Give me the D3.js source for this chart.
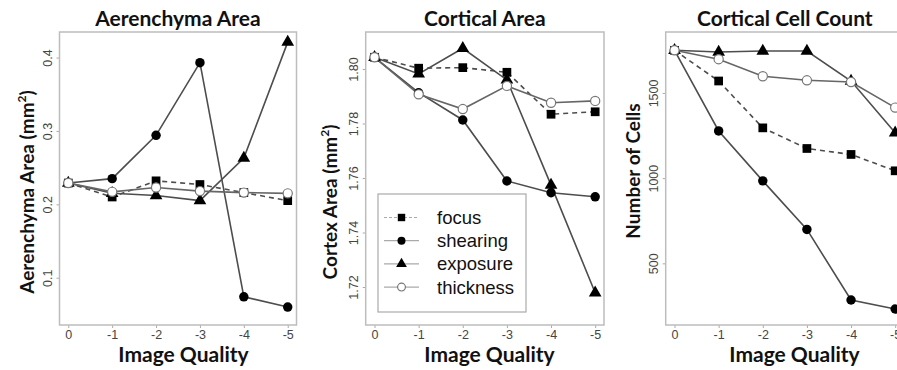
<!DOCTYPE html>
<html>
<head>
<meta charset="utf-8">
<script src="https://cdn.jsdelivr.net/npm/d3@7"></script>
<style>
  body { margin: 0; background: #fff; }
</style>
</head>
<body>
<svg id="chart" width="897" height="370"></svg>
<script>
// x values (image quality steps) and their labels
const qualitySteps = [0, -1, -2, -3, -4, -5];
const qualityLabels = ["0", "-1", "-2", "-3", "-4", "-5"];
const seriesNames = ["focus", "shearing", "exposure", "thickness"];

// Aerenchyma Area (mm2)
const aerFocus     = [0.229, 0.210, 0.232, 0.227, 0.216, 0.205];
const aerShearing  = [0.229, 0.235, 0.294, 0.393, 0.074, 0.060];
const aerExposure  = [0.229, 0.215, 0.212, 0.205, 0.263, 0.421];
const aerThickness = [0.229, 0.217, 0.223, 0.218, 0.216, 0.215];

// Cortical Area (mm2)
const cortFocus     = [1.8043, 1.8003, 1.8005, 1.7988, 1.7834, 1.7843];
const cortShearing  = [1.8043, 1.7913, 1.7813, 1.7589, 1.7546, 1.7531];
const cortExposure  = [1.8043, 1.7982, 1.8076, 1.7960, 1.7574, 1.7179];
const cortThickness = [1.8043, 1.7907, 1.7853, 1.7938, 1.7876, 1.7883];

// Cortical Cell Count
const cellFocus     = [1750, 1570, 1295, 1174, 1139, 1043];
const cellShearing  = [1750, 1277, 984, 699, 285, 232];
const cellExposure  = [1750, 1740, 1746, 1746, 1570, 1266];
const cellThickness = [1750, 1698, 1598, 1574, 1564, 1414];

const aerTicks = [0.1, 0.2, 0.3, 0.4];
const cortTicks = [1.72, 1.74, 1.76, 1.78, 1.80];
const cellTicks = [500, 1000, 1500];

const svg = d3.select("#chart");
svg.append("rect").attr("width", 897).attr("height", 370).attr("fill", "#fff");

const plotTop = 32, plotBottom = 325;
const lineCol = "#4d4d4d";

const panels = [
  { title: "Aerenchyma Area", ylab: "Aerenchyma Area (mm", left: 59.5, right: 296.5,
    domain: [0.0356, 0.4348], ticks: aerTicks, fmt: d => d.toFixed(1),
    data: [aerFocus, aerShearing, aerExposure, aerThickness],
    ylabPos: [27, 192], xlabX: 183.5 },
  { title: "Cortical Area", ylab: "Cortex Area (mm", left: 365.7, right: 604,
    domain: [1.70606, 1.81358], ticks: cortTicks, fmt: d => d.toFixed(2),
    data: [cortFocus, cortShearing, cortExposure, cortThickness],
    ylabPos: [330, 202], xlabX: 489.5, legend: true },
  { title: "Cortical Cell Count", ylab: "Number of Cells", left: 665.7, right: 904,
    domain: [138.3, 1857.5], ticks: cellTicks, fmt: d => String(d),
    data: [cellFocus, cellShearing, cellExposure, cellThickness],
    ylabPos: [633, 171], xlabX: 794.5, noSup: true }
];

function drawMarker(g, name, x, y, scale) {
  const k = scale || 1;
  if (name === "thickness") {
    g.append("circle").attr("cx", x).attr("cy", y).attr("r", 4.6 * k)
      .attr("fill", "#fff").attr("stroke", "#777").attr("stroke-width", 1.2);
    return;
  }
  const type = name === "focus" ? d3.symbolSquare
             : name === "shearing" ? d3.symbolCircle : d3.symbolTriangle;
  const size = (name === "focus" ? 76 : name === "shearing" ? 70 : 70) * k * k;
  g.append("path").attr("d", d3.symbol().type(type).size(size)())
    .attr("transform", `translate(${x},${y})`).attr("fill", "#000");
}

panels.forEach(p => {
  const x = d3.scaleLinear().domain([0.2, -5.2]).range([p.left, p.right]);
  const y = d3.scaleLinear().domain(p.domain).range([plotBottom, plotTop]);
  const g = svg.append("g");

  // title
  g.append("text").attr("x", (p.left + p.right) / 2).attr("y", 26)
    .attr("text-anchor", "middle").attr("font-family", "Lato").attr("font-weight", "bold")
    .attr("font-size", 21).attr("fill", "#111").text(p.title);

  // y axis
  const ya = g.append("g").attr("transform", `translate(${p.left},0)`)
    .call(d3.axisLeft(y).tickValues(p.ticks).tickFormat(p.fmt).tickSize(3).tickPadding(0));
  ya.select(".domain").remove();
  ya.selectAll(".tick line").attr("stroke", "#aaa");
  ya.selectAll(".tick text")
    .attr("x", 0).attr("dy", null)
    .attr("transform", "translate(-12,0) rotate(-90)")
    .attr("text-anchor", "middle").attr("dominant-baseline", "central")
    .attr("font-family", "Liberation Sans").attr("font-size", 12.5).attr("fill", "#444");

  // x axis
  const xa = g.append("g").attr("transform", `translate(0,${plotBottom})`)
    .call(d3.axisBottom(x).tickValues(qualitySteps).tickFormat((d, i) => qualityLabels[i]).tickSize(3).tickPadding(2));
  xa.select(".domain").remove();
  xa.selectAll(".tick line").attr("stroke", "#aaa");
  xa.selectAll(".tick text").attr("font-family", "Liberation Sans").attr("font-size", 12.5).attr("fill", "#444");

  // box
  g.append("rect").attr("x", p.left).attr("y", plotTop)
    .attr("width", p.right - p.left).attr("height", plotBottom - plotTop)
    .attr("fill", "none").attr("stroke", "#bdbdbd").attr("stroke-width", 1.5);

  // axis titles
  g.append("text").attr("x", p.xlabX).attr("y", 362)
    .attr("text-anchor", "middle").attr("font-family", "Lato").attr("font-weight", "bold")
    .attr("font-size", 21).attr("fill", "#111").text("Image Quality");

  const yl = g.append("text")
    .attr("transform", `translate(${p.ylabPos[0]},${p.ylabPos[1]}) rotate(-90)`)
    .attr("text-anchor", "middle").attr("dy", "0.35em")
    .attr("font-family", "Lato").attr("font-weight", "bold")
    .attr("font-size", 19).attr("fill", "#111");
  yl.append("tspan").text(p.ylab);
  if (!p.noSup) {
    yl.append("tspan").attr("font-size", 12).attr("dy", "-0.6em").text("2");
    yl.append("tspan").attr("dy", "0.4em").text(")");
  }

  // series
  const line = d3.line().x((d, i) => x(qualitySteps[i])).y(d => y(d));
  const plot = g.append("g");
  p.data.forEach((vals, si) => {
    const name = seriesNames[si];
    plot.append("path").attr("d", line(vals)).attr("fill", "none")
      .attr("stroke", name === "thickness" ? "#666" : lineCol)
      .attr("stroke-width", 1.6)
      .attr("stroke-dasharray", name === "focus" ? "5,4" : null);
  });
  p.data.forEach((vals, si) => {
    vals.forEach((v, i) => drawMarker(plot, seriesNames[si], x(qualitySteps[i]), y(v)));
  });

  if (p.legend) {
    const lg = g.append("g");
    lg.append("rect").attr("x", 378).attr("y", 194).attr("width", 148).attr("height", 118)
      .attr("fill", "#fff").attr("stroke", "#aaa").attr("stroke-width", 1.2);
    seriesNames.forEach((name, i) => {
      const ly = 217.5 + i * 23.2;
      lg.append("line").attr("x1", 384).attr("x2", 419).attr("y1", ly).attr("y2", ly)
        .attr("stroke", "#aaa").attr("stroke-width", 1.2)
        .attr("stroke-dasharray", name === "focus" ? "3,2" : null);
      drawMarker(lg, name, 401.5, ly, 0.85);
      lg.append("text").attr("x", 437).attr("y", ly).attr("dy", "0.35em")
        .attr("font-family", "Liberation Sans").attr("font-size", 18.5).attr("fill", "#111")
        .text(name);
    });
  }
});
</script>
</body>
</html>
